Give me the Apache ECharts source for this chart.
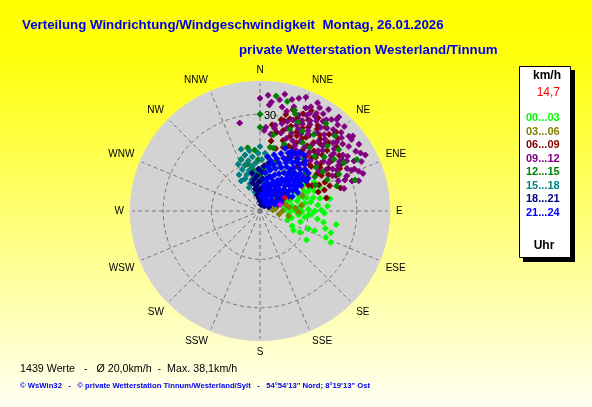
<!DOCTYPE html>
<html><head><meta charset="utf-8">
<script src="https://cdn.jsdelivr.net/npm/echarts@6/dist/echarts.min.js"></script>
<style>html,body{margin:0;padding:0;}#c{width:592px;height:407px;}</style>
</head><body><div id="c"></div>
<script>
const directions = ['N','NNE','NE','ENE','E','ESE','SE','SSE','S','SSW','SW','WSW','W','WNW','NW','NNW'];
const seriesNames = ['00...03','03...06','06...09','09...12','12...15','15...18','18...21','21...24'];
const seriesColors = ['#00ff00','#808000','#800000','#800080','#008000','#008080','#000080','#0000ff'];
// [speed km/h, direction deg]
const s0003 = [[7,75],[8,85],[9,95],[9,108],[10,70],[10,80],[10,102],[11,90],[11,115],[12,75],[12,96],[12,60],[13,84],[13,91],[13,105],[14,72],[14,98],[15,66],[15,74],[15,88],[16,80],[16,94],[16,110],[17,65],[17,76],[17,122],[18,70],[18,84],[18,98],[19,89],[19,78],[20,68],[20,92],[21,79],[22,112],[23,107],[24,100],[14,118],[12,120],[19,62],[21,86],[8,60],[11,55],[24,114],[16,58],[9,70],[10,88],[13,70],[14,80],[15,95],[17,90],[18,110],[20,100],[21,105],[16,68],[22,80],[12,85]];
const s0306 = [[3,40],[4,62],[5,50],[5,80],[6,45],[7,60],[7,90],[8,35],[8,75],[9,52],[9,100],[10,26],[10,66],[11,45],[11,85],[12,55],[13,82],[13,40],[14,70],[6,100],[12,92],[15,60],[9,82],[4,85],[16,50]];
const s0609 = [[19,47],[20,66],[21,79],[21,47],[24,9],[25,22],[26,65],[25,58],[27,8],[29,13],[29,15],[30,30],[34,32],[33,47],[26,30],[31,35],[21,49],[18,55],[22,40],[23,35],[24,52],[25,42],[26,16],[27,25],[27,38],[28,48],[28,20],[29,40],[30,55],[31,22],[32,28],[32,42],[33,18],[22,60],[23,70],[20,35],[24,28],[26,48],[28,33],[17,62],[19,72],[23,18],[25,36],[27,55],[29,27],[31,15],[22,24],[20,14],[18,40],[24,62],[26,74],[30,45],[28,62],[21,57],[19,28],[33,38],[35,27],[23,44],[22,9],[28,42],[27,32],[26,26],[25,12],[24,46],[23,54],[22,66],[21,72],[20,42],[19,52],[18,64],[30,38],[31,50],[32,34],[29,60],[33,24],[34,44],[30,18],[22,28],[21,20]];
const s0912 = [[35,0],[37,19],[35,24],[34,27],[26,4],[32,15],[37,40],[33,39],[36,50],[35,58],[31,47],[31,56],[28,32],[28,40],[29,23],[32,29],[34,35],[32,73],[31,66],[26,69],[28,347],[38,22],[38,34],[37,51],[36,33],[27,54],[33,51],[25,15],[25,30],[25,45],[26,22],[26,38],[26,55],[27,10],[27,18],[27,28],[27,46],[28,14],[28,25],[28,52],[28,60],[29,31],[29,44],[29,58],[30,20],[30,26],[30,36],[30,50],[30,64],[31,30],[31,40],[32,22],[32,36],[32,48],[32,58],[33,12],[33,26],[33,44],[33,62],[34,18],[34,30],[34,42],[34,54],[35,10],[35,36],[35,46],[36,16],[36,26],[36,42],[37,30],[37,12],[24,20],[24,40],[23,50],[24,58],[22,30],[29,68],[27,62],[34,6],[24,35],[26,44],[30,42],[36,60],[28,70],[25,64],[23,28],[37,45],[36,52],[35,64],[33,68],[34,48],[30,58],[29,52],[31,60],[32,66],[36,38],[35,30],[38,28],[33,32],[31,25],[29,17],[26,10],[24,8],[33,5],[36,4],[30,72],[27,75],[34,70],[37,56],[28,44],[26,60],[25,52],[23,40],[22,45],[21,35],[24,25],[38,40],[37,62],[22,56],[25,3]];
const s1215 = [[30,0],[26,0],[35,14],[20,349],[34,62],[30,60],[33,19],[16,358],[19,355],[20,9],[34,37],[31,52],[29,46],[22,52],[25,32],[32,20],[30,23],[20,12],[25,38],[14,350],[13,5],[15,345],[17,8],[12,355],[22,20],[24,45],[27,65],[18,30],[21,40],[16,18],[23,58],[28,28],[11,0],[36,8],[19,65],[15,25],[26,50],[13,350],[17,340],[31,72],[24,10],[27,20],[29,35],[33,45],[21,28],[23,65],[25,72],[18,50],[20,58],[16,40],[14,15],[28,55]];
const s1518 = [[6,345],[7,355],[8,335],[8,350],[9,340],[9,5],[10,345],[10,358],[11,335],[11,350],[12,340],[12,355],[12,8],[13,345],[13,0],[14,337],[14,350],[14,10],[15,342],[15,355],[16,347],[16,2],[17,340],[17,352],[18,345],[18,5],[19,350],[13,330],[11,328],[16,335],[20,343],[10,12],[15,15],[18,358],[20,0]];
const s1821 = [[2,10],[2,40],[3,0],[3,25],[4,355],[4,5],[4,45],[5,350],[5,15],[5,60],[6,355],[6,8],[6,30],[7,348],[7,2],[7,20],[8,352],[8,10],[8,40],[9,345],[9,358],[9,25],[10,350],[10,5],[11,355],[11,15],[12,348],[12,3],[13,358],[14,5],[6,70],[3,65],[10,32],[15,10],[7,55]];
const s2124 = [[4,15],[4,35],[4,55],[5,10],[5,25],[5,45],[5,65],[6,20],[6,38],[6,58],[7,12],[7,28],[7,48],[7,68],[8,8],[8,22],[8,35],[8,52],[8,62],[9,15],[9,30],[9,42],[9,57],[10,10],[10,24],[10,36],[10,48],[10,63],[11,18],[11,30],[11,44],[11,55],[12,8],[12,22],[12,34],[12,46],[12,58],[13,14],[13,27],[13,39],[13,52],[14,10],[14,20],[14,32],[14,44],[14,56],[15,16],[15,26],[15,37],[15,48],[16,12],[16,22],[16,31],[16,42],[16,53],[17,18],[17,28],[17,38],[17,47],[18,14],[18,24],[18,34],[18,44],[19,20],[19,30],[19,40],[20,26],[20,36],[21,32],[22,38],[6,30],[9,50],[11,66],[13,64],[7,40],[10,32],[12,40],[15,58],[3,30],[3,50],[5,5],[19,48],[17,8],[21,22],[13,45],[14,50],[15,42],[16,47],[17,52],[18,56],[19,52],[20,44],[21,42],[22,34],[20,30],[18,28],[16,36],[14,38],[12,50],[11,36],[9,36],[8,45],[10,54],[13,58],[15,53],[17,57],[19,36],[21,28]];
const currentPoint = [[8.7,62]];
const extraPoint = [[6.5,73]];
const radiusTicks = [15, 30];
const radiusMax = 40;

const allData = [s0003,s0306,s0609,s0912,s1215,s1518,s1821,s2124];
const FONT = 'Liberation Sans, Arial, sans-serif';
const SYM = 'path://M2,0H4V1H5V2H6V4H5V5H4V6H2V5H1V4H0V2H1V1H2Z';

const chart = echarts.init(document.getElementById('c'), null, {renderer:'canvas'});
const series = allData.map((d,i)=>({
  type:'scatter', coordinateSystem:'polar', polarIndex:1, name:seriesNames[i], data:d,
  symbol:SYM, symbolSize:6, itemStyle:{color:seriesColors[i], opacity:1}, silent:true, animation:false
}));
series.push({type:'scatter', coordinateSystem:'polar', polarIndex:1, name:'cur', data:currentPoint, symbol:SYM, symbolSize:6, itemStyle:{color:'#ff0000'}, animation:false});
series.push({type:'scatter', coordinateSystem:'polar', polarIndex:1, name:'mag', data:extraPoint, symbol:SYM, symbolSize:6, itemStyle:{color:'#ff00ff'}, animation:false});

chart.setOption({
  animation:false,
  backgroundColor: new echarts.graphic.LinearGradient(0,0,0,1,[{offset:0,color:'#ffff00'},{offset:0.12,color:'#ffff08'},{offset:1,color:'#fffff4'}]),
  title:[
    {text:'Verteilung Windrichtung/Windgeschwindigkeit  Montag, 26.01.2026', left:22, top:19, padding:0,
     textStyle:{color:'#0000f0', fontSize:13.3, fontWeight:'bold', fontFamily:FONT}},
    {text:'private Wetterstation Westerland/Tinnum', left:239, top:44, padding:0,
     textStyle:{color:'#0000f0', fontSize:13.3, fontWeight:'bold', fontFamily:FONT}}
  ],
  polar:[{center:[260,211], radius:129},{center:[260,211], radius:129},{center:[260,211], radius:129}],
  angleAxis:[
    {polarIndex:0, type:'value', min:0, max:360, startAngle:90, clockwise:true, z:-2,
     axisLine:{show:false}, axisTick:{show:false}, axisLabel:{show:false}, splitLine:{show:false}},
    {polarIndex:1, type:'value', min:0, max:360, interval:22.5, startAngle:90, clockwise:true,
     axisLine:{show:true, lineStyle:{color:'#d3d3d3', width:2.5}}, axisTick:{show:false},
     axisLabel:{formatter:v=>directions[Math.round(v/22.5)%16], margin:7, color:'#000', fontSize:10, fontFamily:FONT},
     splitLine:{show:true, lineStyle:{color:'#777777', type:[4,3], width:1}}},
    {polarIndex:2, type:'value', min:0, max:360, startAngle:78, clockwise:true,
     axisLine:{show:false}, axisTick:{show:false}, axisLabel:{show:false}, splitLine:{show:false}}
  ],
  radiusAxis:[
    {polarIndex:0, type:'value', min:0, max:radiusMax, z:-2,
     axisLine:{show:false}, axisTick:{show:false}, axisLabel:{show:false}, splitLine:{show:false},
     splitArea:{show:true, areaStyle:{color:['#d3d3d3']}}},
    {polarIndex:1, type:'value', min:0, max:radiusMax, interval:15,
     axisLine:{show:false}, axisTick:{show:false}, axisLabel:{show:false},
     splitLine:{show:true, lineStyle:{color:'#777777', type:[4,3], width:1}},
     splitArea:{show:false}},
    {polarIndex:2, type:'value', min:0, max:radiusMax, interval:15, z:20,
     axisLine:{show:false}, axisTick:{show:false}, splitLine:{show:false}, splitArea:{show:false},
     axisLabel:{show:true, showMaxLabel:true, formatter:v=>(v===radiusTicks[1]?String(v):''), margin:4, color:'#000', fontSize:11, fontFamily:FONT}}
  ],
  legend:{orient:'vertical', left:521, top:110, icon:'none', itemWidth:0, itemHeight:16, itemGap:0, padding:0,
    selectedMode:false,
    textStyle:{fontSize:11, fontWeight:'bold', fontFamily:FONT},
    data:seriesNames.map((n,i)=>({name:n, textStyle:{color:seriesColors[i]}}))
  },
  graphic:[
    {type:'rect', shape:{x:523,y:70,width:52,height:192}, style:{fill:'#000'}, z:-1},
    {type:'rect', shape:{x:519.5,y:66.5,width:51,height:191}, style:{fill:'#fff', stroke:'#000', lineWidth:1}, z:-1},
    {type:'text', x:547, y:76, style:{text:'km/h', fill:'#000', font:'bold 12px '+FONT, textAlign:'center', textVerticalAlign:'middle'}},
    {type:'text', x:560, y:93, style:{text:'14,7', fill:'#ff0000', font:'12px '+FONT, textAlign:'right', textVerticalAlign:'middle'}},
    {type:'text', x:544, y:246, style:{text:'Uhr', fill:'#000', font:'bold 12px '+FONT, textAlign:'center', textVerticalAlign:'middle'}},
    {type:'text', x:20, y:369, style:{text:'1439 Werte   -   Ø 20,0km/h  -  Max. 38,1km/h', fill:'#000', font:'10.7px '+FONT, textVerticalAlign:'middle'}},
    {type:'text', x:20, y:386, style:{text:'© WsWin32   -   © private Wetterstation Tinnum/Westerland/Sylt   -   54°54\'13\'\' Nord; 8°19\'13\'\' Ost', fill:'#0000f0', font:'bold 7.7px '+FONT, textVerticalAlign:'middle'}}
  ],
  series:series
});
</script></body></html>
